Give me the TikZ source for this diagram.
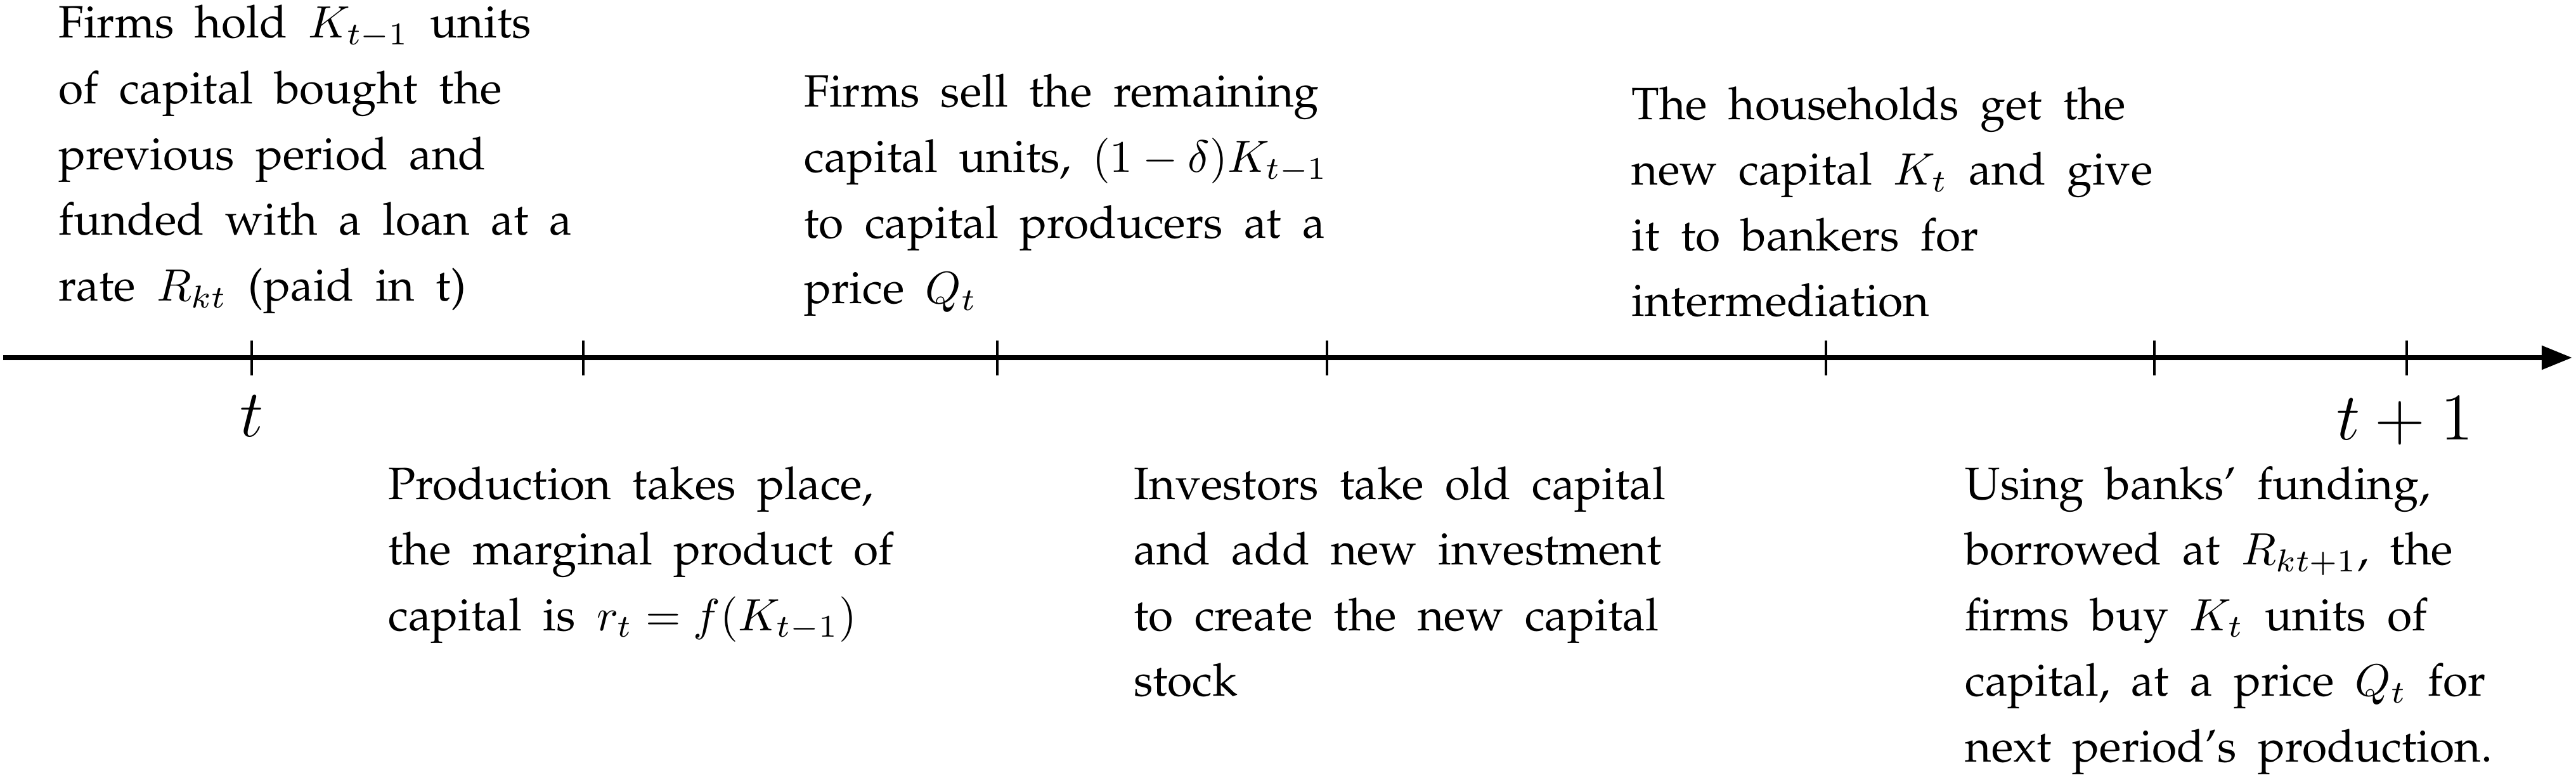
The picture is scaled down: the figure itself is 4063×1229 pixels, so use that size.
\documentclass[tikz,border=0pt]{standalone}
\usepackage{fix-cm}
\usepackage[T1]{fontenc}
\usepackage{palatino}
\usetikzlibrary{arrows.meta}
\newcommand{\descfont}{\fontsize{10.2pt}{14.8pt}\selectfont}
\newcommand{\widespace}{\spaceskip=0.47em\relax\xspaceskip=0.53em\relax}
\tikzset{
  desc/.style={anchor=base west, inner sep=0pt, text width=145pt, align=left,
    font=\descfont, execute at begin node=\widespace},
  lbl/.style={anchor=base, inner sep=0pt, font={\fontsize{15pt}{18pt}\selectfont}},
  axisline/.style={line width=1.15pt, -{Triangle[length=6.9pt, width=5.2pt]}},
  tickline/.style={line width=0.6pt},
}
\begin{document}
\begin{tikzpicture}[x=0.142857pt, y=-0.142857pt]
\useasboundingbox (0,0) rectangle (4063,1229);
% axis
\coordinate (axstart) at (5,564);
\coordinate (axend) at (4057,564);
\draw[axisline] (axstart) -- (axend);
% ticks
\foreach \x/\n in {397/a,920/b,1573/c,2093/d,2880/e,3398/f,3796/g}{
  \coordinate (top\n) at (\x,537);
  \coordinate (bot\n) at (\x,592);
  \draw[tickline] (top\n) -- (bot\n);
}
% labels
\node[lbl] (lt) at (397,688) {$t$};
\node[lbl] (ltone) at (3793,693) {$t+1$};
% top descriptions
\node[desc] (tl) at (91,60) {Firms hold $K_{t-1}$ units\\ of capital bought the\\ previous period and\\ funded with a loan at a\\ rate $R_{kt}$ (paid in t)};
\node[desc] (tm) at (1267,168) {Firms sell the remaining\\ capital units, $(1-\delta)K_{t-1}$\\ to capital producers at a\\ price $Q_t$};
\node[desc] (tr) at (2572,188) {The households get the\\ new capital $K_t$ and give\\ it to bankers for\\ intermediation};
% bottom descriptions
\node[desc] (bl) at (611,787) {Production takes place,\\ the marginal product of\\ capital is $r_t = f(K_{t-1})$};
\node[desc] (bm) at (1787,787) {Investors take old capital\\ and add new investment\\ to create the new capital\\ stock};
\node[desc, text width=136pt] (br) at (3098,787) {Using banks' funding,\\ borrowed at $R_{kt+1}$, the\\ firms buy $K_t$ units of\\ capital, at a price $Q_t$ for\\ next period's production.};
\end{tikzpicture}
\end{document}
